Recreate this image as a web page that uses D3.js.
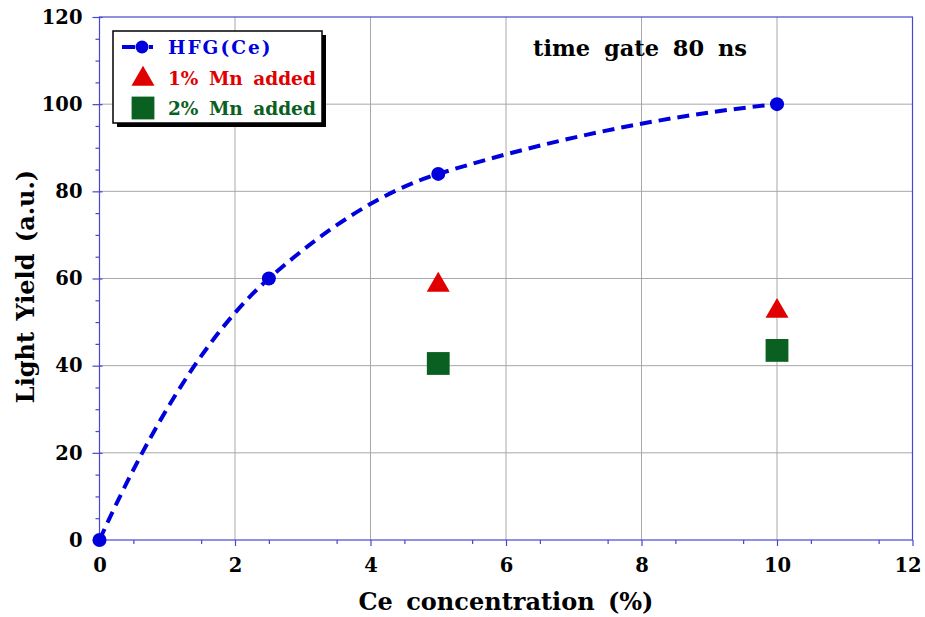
<!DOCTYPE html>
<html>
<head>
<meta charset="utf-8">
<script src="https://cdn.jsdelivr.net/npm/d3@7"></script>
<style>
  body { margin: 0; background: #fff; }
  svg text { font-family: "DejaVu Serif", "Liberation Serif", serif; font-weight: bold; }
</style>
</head>
<body>
<svg id="chart"></svg>
<script>
// data
const hfgConc = [0, 2.5, 5, 10]
const hfgYield = [0, 60, 84, 100]
const mn1Conc = [5, 10]
const mn1Yield = [58.5, 52.5]
const mn2Conc = [5, 10]
const mn2Yield = [40.5, 43.5]
const xTicks = [0, 2, 4, 6, 8, 10, 12]
const yTicks = [0, 20, 40, 60, 80, 100, 120]

const width = 925, height = 617
const margin = { top: 17, right: 12.5, bottom: 77, left: 99.5 }

const blue = "#0000dd", red = "#e00000", green = "#0a6020"
const axisColor = "#4646d2", gridColor = "#a8a8a8"

// smooth curve: harmonic-mean tangents inside, parabolic ends
function SmoothCurve(context) { this._context = context }
SmoothCurve.prototype = {
  areaStart() {}, areaEnd() {},
  lineStart() { this._pts = [] },
  point(x, y) { this._pts.push([+x, +y]) },
  lineEnd() {
    const p = this._pts, n = p.length, ctx = this._context
    if (!n) return
    ctx.moveTo(p[0][0], p[0][1])
    if (n < 3) { if (n === 2) ctx.lineTo(p[1][0], p[1][1]); return }
    const s = []
    for (let i = 0; i < n - 1; i++) s.push((p[i + 1][1] - p[i][1]) / (p[i + 1][0] - p[i][0]))
    const m = new Array(n)
    for (let i = 1; i < n - 1; i++) {
      m[i] = s[i - 1] * s[i] > 0 ? 2 * s[i - 1] * s[i] / (s[i - 1] + s[i]) : 0
    }
    m[0] = 2 * s[0] - m[1]
    m[n - 1] = 2 * s[n - 2] - m[n - 2]
    for (let i = 0; i < n - 1; i++) {
      const h = (p[i + 1][0] - p[i][0]) / 3
      ctx.bezierCurveTo(p[i][0] + h, p[i][1] + m[i] * h,
        p[i + 1][0] - h, p[i + 1][1] - m[i + 1] * h,
        p[i + 1][0], p[i + 1][1])
    }
  }
}
const curveSmooth = context => new SmoothCurve(context)

const svg = d3.select("#chart").attr("width", width).attr("height", height)

const x = d3.scaleLinear().domain([0, 12]).range([margin.left, width - margin.right])
const y = d3.scaleLinear().domain([0, 120]).range([height - margin.bottom, margin.top])

// grid
svg.append("g").selectAll("line")
  .data(xTicks.slice(1, -1))
  .enter().append("line")
  .attr("x1", d => x(d)).attr("x2", d => x(d))
  .attr("y1", y(0)).attr("y2", y(120))
  .attr("stroke", gridColor).attr("stroke-width", 1)
svg.append("g").selectAll("line")
  .data(yTicks.slice(1, -1))
  .enter().append("line")
  .attr("y1", d => y(d)).attr("y2", d => y(d))
  .attr("x1", x(0)).attr("x2", x(12))
  .attr("stroke", gridColor).attr("stroke-width", 1)

// frame
svg.append("rect")
  .attr("x", x(0)).attr("y", y(120))
  .attr("width", x(12) - x(0)).attr("height", y(0) - y(120))
  .attr("fill", "none").attr("stroke", axisColor).attr("stroke-width", 1.2)

// axes
const xAxis = d3.axisBottom(x).tickValues(xTicks).tickSize(6).tickFormat(d3.format("d"))
const xMinor = d3.axisBottom(x).tickValues(d3.range(0.5, 12, 1)).tickSize(4).tickFormat("")
const yAxis = d3.axisLeft(y).tickValues(yTicks).tickSize(7).tickFormat(d3.format("d"))
const yMinor = d3.axisLeft(y).tickValues(d3.range(5, 120, 5).filter(v => v % 20)).tickSize(4).tickFormat("")

function styleAxis(g) {
  g.attr("font-family", null)
  g.select(".domain").remove()
  g.selectAll("line").attr("stroke", axisColor).attr("stroke-width", 1.2)
  g.selectAll("text").attr("fill", "#000").attr("font-size", 19.5)
}

svg.append("g").attr("transform", `translate(0,${y(0)})`).call(xMinor).call(styleAxis)
const gx = svg.append("g").attr("transform", `translate(0,${y(0)})`).call(xAxis).call(styleAxis)
gx.selectAll("text").attr("dy", "1.2em")
gx.selectAll("text").filter(d => d === 12).attr("dx", -5)
svg.append("g").attr("transform", `translate(${x(0)},0)`).call(yMinor).call(styleAxis)
const gy = svg.append("g").attr("transform", `translate(${x(0)},0)`).call(yAxis).call(styleAxis)
gy.selectAll(".tick line").attr("x2", -7).attr("x1", 3)
gy.selectAll("text").attr("x", -17)

// axis titles
svg.append("text")
  .attr("x", (x(0) + x(12)) / 2).attr("y", 610)
  .attr("text-anchor", "middle").attr("font-size", 24)
  .style("word-spacing", "5px")
  .text("Ce concentration (%)")

svg.append("text")
  .attr("transform", `translate(34,${(y(0) + y(120)) / 2 + 8}) rotate(-90)`)
  .attr("text-anchor", "middle").attr("font-size", 24)
  .style("word-spacing", "3px")
  .text("Light Yield (a.u.)")

svg.append("text")
  .attr("x", 640).attr("y", 56)
  .attr("text-anchor", "middle").attr("font-size", 22.5)
  .style("word-spacing", "6px")
  .text("time gate 80 ns")

// HFG(Ce) curve
const hfg = hfgConc.map((c, i) => [c, hfgYield[i]])
const line = d3.line()
  .x(d => x(d[0])).y(d => y(d[1]))
  .curve(curveSmooth)

svg.append("path")
  .datum(hfg)
  .attr("d", line)
  .attr("fill", "none").attr("stroke", blue)
  .attr("stroke-width", 4).attr("stroke-dasharray", "12,7")

svg.append("g").selectAll("circle")
  .data(hfg)
  .enter().append("circle")
  .attr("cx", d => x(d[0])).attr("cy", d => y(d[1]))
  .attr("r", 7).attr("fill", blue)

const tri = d3.symbol().type(d3.symbolTriangle).size(230)
const sq = d3.symbol().type(d3.symbolSquare).size(520)

svg.append("g").selectAll("path")
  .data(mn1Conc.map((c, i) => [c, mn1Yield[i]]))
  .enter().append("path")
  .attr("d", tri)
  .attr("transform", d => `translate(${x(d[0])},${y(d[1])})`)
  .attr("fill", red)

svg.append("g").selectAll("path")
  .data(mn2Conc.map((c, i) => [c, mn2Yield[i]]))
  .enter().append("path")
  .attr("d", sq)
  .attr("transform", d => `translate(${x(d[0])},${y(d[1])})`)
  .attr("fill", green)

// legend
const lg = svg.append("g").attr("transform", "translate(113,31)")
lg.append("rect").attr("x", 4).attr("y", 4).attr("width", 209).attr("height", 92).attr("fill", "#000")
lg.append("rect").attr("width", 209).attr("height", 92)
  .attr("fill", "#fff").attr("stroke", "#000").attr("stroke-width", 1.5)

lg.append("line").attr("x1", 9).attr("x2", 22).attr("y1", 16).attr("y2", 16)
  .attr("stroke", blue).attr("stroke-width", 4)
lg.append("line").attr("x1", 36).attr("x2", 40).attr("y1", 16).attr("y2", 16)
  .attr("stroke", blue).attr("stroke-width", 4)
lg.append("circle").attr("cx", 29).attr("cy", 16).attr("r", 6.5).attr("fill", blue)
lg.append("path").attr("d", tri).attr("transform", "translate(30,48)").attr("fill", red)
lg.append("path").attr("d", sq).attr("transform", "translate(30,77)").attr("fill", green)

const legendItems = [
  { label: "HFG(Ce)", color: blue, y: 23, spacing: "2px" },
  { label: "1% Mn added", color: red, y: 54, spacing: "0px" },
  { label: "2% Mn added", color: green, y: 84, spacing: "0px" }
]
lg.selectAll(".lt")
  .data(legendItems)
  .enter().append("text")
  .attr("class", "lt")
  .attr("x", 55).attr("y", d => d.y)
  .attr("font-size", 18.5)
  .attr("fill", d => d.color)
  .style("letter-spacing", d => d.spacing)
  .style("word-spacing", "4px")
  .text(d => d.label)
</script>
</body>
</html>
